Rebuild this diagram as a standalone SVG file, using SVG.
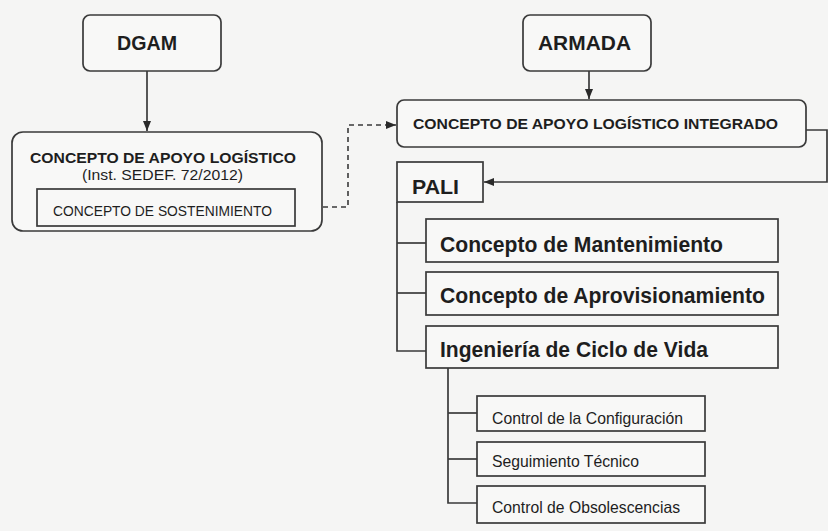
<svg xmlns="http://www.w3.org/2000/svg" width="828" height="531" viewBox="0 0 828 531">
<defs>
<style>
.bg{fill:#f5f5f4}
.box{fill:#f8f8f7;stroke:#3a3a3a;stroke-width:1.7}
.ln{fill:none;stroke:#3a3a3a;stroke-width:1.7}
.dash{fill:none;stroke:#3a3a3a;stroke-width:1.6;stroke-dasharray:5 4}
.t{font-family:"Liberation Sans",Arial,sans-serif;fill:#1e1e1e}
.b{font-weight:bold}
</style>
<marker id="ah" viewBox="0 0 10 10" refX="10" refY="5" markerWidth="10" markerHeight="10" markerUnits="userSpaceOnUse" orient="auto">
<path d="M0,1 L10,5 L0,9 Z" fill="#2a2a2a"/>
</marker>
</defs>
<rect class="bg" x="0" y="0" width="828" height="531"/>

<g id="connectors">
<line class="ln" x1="147" y1="71" x2="147" y2="131" marker-end="url(#ah)"/>
<line class="ln" x1="589" y1="71" x2="589" y2="99" marker-end="url(#ah)"/>
<polyline class="dash" points="296,207 348,207 348,125 396,125" marker-end="url(#ah)"/>
<polyline class="ln" points="806,130 827,130 827,182 484,182" marker-end="url(#ah)"/>
<polyline class="ln" points="397,202 397,351 426,351"/>
<line class="ln" x1="397" y1="243" x2="426" y2="243"/>
<line class="ln" x1="397" y1="293" x2="426" y2="293"/>
<polyline class="ln" points="448,368 448,503 477,503"/>
<line class="ln" x1="448" y1="413" x2="477" y2="413"/>
<line class="ln" x1="448" y1="459" x2="477" y2="459"/>
</g>

<g id="dgam">
<rect class="box" x="83" y="15" width="138" height="56" rx="7"/>
<text class="t b" x="147" y="50" font-size="21" text-anchor="middle" textLength="60" lengthAdjust="spacingAndGlyphs">DGAM</text>
</g>

<g id="armada">
<rect class="box" x="523" y="15" width="128" height="56" rx="7"/>
<text class="t b" x="584.5" y="50" font-size="21" text-anchor="middle" textLength="93" lengthAdjust="spacingAndGlyphs">ARMADA</text>
</g>

<g id="concepto-apoyo">
<rect class="box" x="12" y="132" width="310" height="99" rx="11"/>
<text class="t b" x="30" y="163" font-size="15" textLength="266" lengthAdjust="spacingAndGlyphs">CONCEPTO DE APOYO LOGÍSTICO</text>
<text class="t" x="82" y="180" font-size="15.5" textLength="161" lengthAdjust="spacingAndGlyphs">(Inst. SEDEF. 72/2012)</text>
</g>

<g id="concepto-sostenimiento">
<rect class="box" x="37" y="189" width="258" height="37"/>
<text class="t" x="53" y="216" font-size="14" textLength="219" lengthAdjust="spacingAndGlyphs">CONCEPTO DE SOSTENIMIENTO</text>
</g>

<g id="concepto-integrado">
<rect class="box" x="397" y="100" width="409" height="47" rx="7"/>
<text class="t b" x="413" y="129" font-size="15" textLength="365" lengthAdjust="spacingAndGlyphs">CONCEPTO DE APOYO LOGÍSTICO INTEGRADO</text>
</g>

<g id="pali">
<rect class="box" x="397" y="162" width="86" height="40"/>
<text class="t b" x="412" y="194" font-size="20" textLength="47" lengthAdjust="spacingAndGlyphs">PALI</text>
</g>

<g id="mantenimiento">
<rect class="box" x="426" y="219" width="352" height="43"/>
<text class="t b" x="440" y="252" font-size="21.5" textLength="283" lengthAdjust="spacingAndGlyphs">Concepto de Mantenimiento</text>
</g>

<g id="aprovisionamiento">
<rect class="box" x="426" y="272" width="352" height="43"/>
<text class="t b" x="440" y="303" font-size="21.5" textLength="325" lengthAdjust="spacingAndGlyphs">Concepto de Aprovisionamiento</text>
</g>

<g id="ingenieria">
<rect class="box" x="426" y="326" width="352" height="42"/>
<text class="t b" x="440" y="357" font-size="21.5" textLength="268" lengthAdjust="spacingAndGlyphs">Ingeniería de Ciclo de Vida</text>
</g>

<g id="configuracion">
<rect class="box" x="477" y="396" width="228" height="35"/>
<text class="t" x="492" y="424" font-size="16.5" textLength="191" lengthAdjust="spacingAndGlyphs">Control de la Configuración</text>
</g>

<g id="seguimiento">
<rect class="box" x="477" y="442" width="228" height="34"/>
<text class="t" x="492" y="467" font-size="16.5" textLength="147" lengthAdjust="spacingAndGlyphs">Seguimiento Técnico</text>
</g>

<g id="obsolescencias">
<rect class="box" x="477" y="486" width="228" height="37"/>
<text class="t" x="492" y="513" font-size="16.5" textLength="188" lengthAdjust="spacingAndGlyphs">Control de Obsolescencias</text>
</g>
</svg>
